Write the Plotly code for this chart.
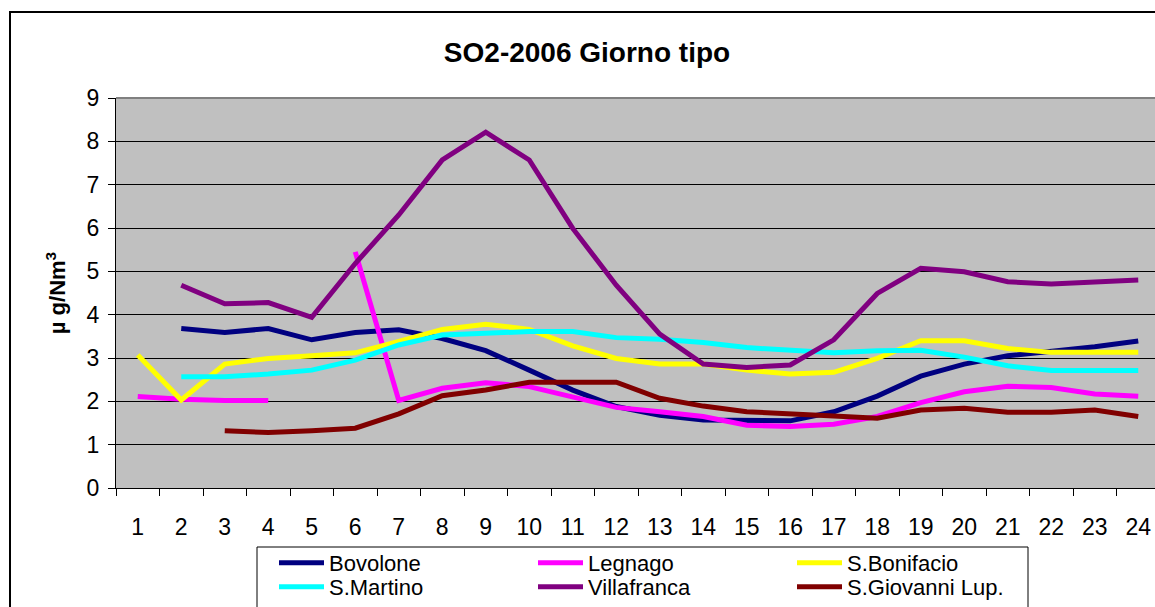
import plotly.graph_objects as go

hours = [str(h) for h in range(1, 25)]

bovolone = [None, 3.68, 3.59, 3.68, 3.42, 3.59, 3.65, 3.45, 3.17, 2.72, 2.26, 1.88,
            1.68, 1.57, 1.55, 1.55, 1.76, 2.12, 2.58, 2.86, 3.05, 3.15, 3.26, 3.39]
legnago = [2.11, 2.05, 2.02, 2.02, None, 5.45, 2.02, 2.30, 2.43, 2.34, 2.11, 1.86,
           1.76, 1.65, 1.45, 1.42, 1.47, 1.65, 1.97, 2.22, 2.35, 2.32, 2.17, 2.12]
s_bonifacio = [3.07, 2.03, 2.86, 2.99, 3.05, 3.12, 3.38, 3.66, 3.78, 3.66, 3.28, 2.99,
               2.86, 2.86, 2.72, 2.63, 2.67, 2.99, 3.40, 3.40, 3.22, 3.13, 3.13, 3.13]
s_martino = [None, 2.57, 2.57, 2.63, 2.72, 2.95, 3.30, 3.53, 3.57, 3.61, 3.61, 3.47,
             3.43, 3.36, 3.24, 3.17, 3.12, 3.17, 3.18, 3.02, 2.82, 2.71, 2.71, 2.71]
villafranca = [None, 4.68, 4.25, 4.28, 3.94, 5.18, 6.30, 7.57, 8.21, 7.57, 5.99, 4.68,
               3.55, 2.86, 2.78, 2.84, 3.42, 4.49, 5.07, 4.99, 4.76, 4.71, 4.76, 4.80]
s_giovanni = [None, None, 1.32, 1.28, 1.32, 1.38, 1.71, 2.13, 2.26, 2.44, 2.44, 2.44,
              2.07, 1.89, 1.76, 1.70, 1.66, 1.61, 1.80, 1.84, 1.75, 1.75, 1.80, 1.65]

series_names = ["Bovolone", "Legnago", "S.Bonifacio", "S.Martino", "Villafranca", "S.Giovanni Lup."]
series_values = [bovolone, legnago, s_bonifacio, s_martino, villafranca, s_giovanni]
series_colors = ["#000080", "#FF00FF", "#FFFF00", "#00FFFF", "#800080", "#800000"]
legend_rows = ["legend", "legend", "legend", "legend2", "legend2", "legend2"]

FONT = "Liberation Sans, Arial, sans-serif"

fig = go.Figure()
for name, vals, col, lg in zip(series_names, series_values, series_colors, legend_rows):
    fig.add_trace(go.Scatter(x=hours, y=vals, name=name, mode="lines", legend=lg,
                             line=dict(color=col, width=5), connectgaps=False))

W, H = 1155, 607
L, R, T = 116, 0, 98
B = H - 488
pw = W - L - R
ph = H - T - B

def px_x(x):
    return (x - L) / pw

def px_y(y):
    return (H - B - y) / ph

legend_common = dict(orientation="h", xanchor="left", yanchor="top",
                     borderwidth=0, bgcolor="rgba(0,0,0,0)",
                     itemwidth=45, entrywidth=199, entrywidthmode="pixels",
                     font=dict(size=22, family=FONT, color="black"), traceorder="normal")

fig.update_layout(
    width=W, height=H,
    margin=dict(l=L, r=R, t=T, b=B, autoexpand=False),
    paper_bgcolor="white",
    plot_bgcolor="#C0C0C0",
    font=dict(family=FONT, color="black", size=22),
    title=dict(text="<b>SO2-2006 Giorno tipo</b>", x=587 / W, xanchor="center",
               y=1 - 52 / H, yanchor="middle", font=dict(size=28, family=FONT, color="black")),
    xaxis=dict(type="category", range=[-0.5, (W - 137.75) / 43.5], tickson="boundaries",
               showgrid=False, showline=True, linecolor="black", linewidth=1,
               ticks="outside", ticklen=7, tickcolor="black", tickwidth=1,
               tickfont=dict(size=23), ticklabelstandoff=18, zeroline=False,
               automargin=False),
    yaxis=dict(range=[0, 9], dtick=1, showgrid=True, gridcolor="black", gridwidth=1,
               showline=True, linecolor="black", linewidth=1, zeroline=False,
               ticks="outside", ticklen=7, tickcolor="black", tickfont=dict(size=23),
               ticklabelstandoff=4, automargin=False,
               title=dict(text="<b>µ g/Nm<sup>3</sup></b>", font=dict(size=22), standoff=14)),
    legend=dict(x=px_x(274), y=px_y(542), **legend_common),
    legend2=dict(x=px_x(274), y=px_y(566), **legend_common),
    shapes=[
        dict(type="line", xref="paper", yref="paper", x0=0, x1=1.01, y0=1, y1=1,
             line=dict(color="#808080", width=2), layer="above"),
        dict(type="rect", xref="paper", yref="paper", x0=px_x(10), x1=1.2,
             y0=-0.6, y1=px_y(12), line=dict(color="black", width=2), layer="above"),
        dict(type="rect", xref="paper", yref="paper", x0=px_x(257), x1=px_x(1028),
             y0=-0.6, y1=px_y(547), line=dict(color="black", width=1), layer="above"),
    ],
)

fig.write_html("out.html", config={"displayModeBar": False},
               post_script="document.body.style.margin='0';document.body.style.overflow='hidden';")
